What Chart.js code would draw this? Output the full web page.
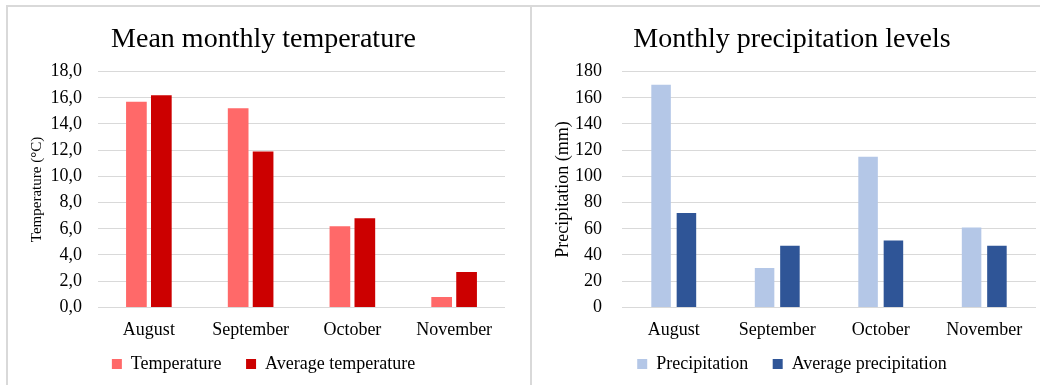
<!DOCTYPE html>
<html>
<head>
<meta charset="utf-8">
<script src="https://cdn.jsdelivr.net/npm/chart.js@4.4.1/dist/chart.umd.min.js"></script>
<style>
  html, body { margin: 0; padding: 0; background: #ffffff; overflow: hidden; }
  body { width: 1040px; height: 385px; position: relative; }
  .frame { position: absolute; border: 2px solid #d9d9d9; box-sizing: border-box; }
  #frameLeft { left: 6px; top: 5px; width: 526px; height: 400px; }
  #frameRight { left: 530px; top: 5px; width: 540px; height: 400px; }
  .holder { position: absolute; }
  #holdLeft { left: 8px; top: 7px; width: 520px; height: 378px; }
  #holdRight { left: 532px; top: 7px; width: 522px; height: 378px; }
</style>
</head>
<body>
<div class="frame" id="frameLeft"></div>
<div class="frame" id="frameRight"></div>
<div class="holder" id="holdLeft"><canvas id="tempChart"></canvas></div>
<div class="holder" id="holdRight"><canvas id="precChart"></canvas></div>
<script>
// Months shown on both charts
const months = ['August', 'September', 'October', 'November'];

// Temperature, °C
const temperature = [15.7, 15.2, 6.2, 0.8];
const averageTemperature = [16.2, 11.9, 6.8, 2.7];
const temperatureTicks = ['0,0', '2,0', '4,0', '6,0', '8,0', '10,0', '12,0', '14,0', '16,0', '18,0'];

// Precipitation, mm
const precipitation = [170, 30, 115, 61];
const averagePrecipitation = [72, 47, 51, 47];
const precipitationTicks = ['0', '20', '40', '60', '80', '100', '120', '140', '160', '180'];

const serif = '"Liberation Serif", "Times New Roman", serif';
Chart.defaults.font.family = serif;
Chart.defaults.color = '#000000';

function barChart(canvasId, cfg) {
  return new Chart(document.getElementById(canvasId), {
    type: 'bar',
    data: {
      labels: months,
      datasets: cfg.series.map(s => ({
        label: s.label,
        data: s.data,
        backgroundColor: s.color,
        borderWidth: 0,
        categoryPercentage: 0.49,
        barPercentage: cfg.barPct
      }))
    },
    options: {
      responsive: true,
      maintainAspectRatio: false,
      animation: false,
      layout: { padding: cfg.padding },
      plugins: {
        title: {
          display: true,
          text: cfg.title,
          font: { size: 28, weight: 'normal', family: serif },
          color: '#000000',
          padding: { top: 16, bottom: 15 }
        },
        legend: {
          position: 'bottom',
          labels: {
            boxWidth: 10,
            boxHeight: 10,
            padding: 2,
            font: { size: 18, family: serif },
            color: '#000000',
            // a wider gap between the two legend entries
            generateLabels: (chart) => {
              const items = Chart.defaults.plugins.legend.labels.generateLabels(chart);
              items.forEach((it, i) => {
                it.lineWidth = 0;
                if (i < items.length - 1) it.text = it.text + '\u2003\u00A0';
              });
              return items;
            }
          }
        },
        tooltip: { enabled: false }
      },
      scales: {
        x: {
          grid: { display: false, drawTicks: false },
          border: { display: false },
          ticks: { font: { size: 18, family: serif }, padding: 12, color: '#000000' }
        },
        y: {
          min: 0,
          max: cfg.max,
          afterFit: (scale) => { scale.width = cfg.axisWidth; },
          grid: { color: '#d9d9d9', lineWidth: 1, drawTicks: false },
          border: { display: false },
          ticks: {
            stepSize: cfg.step,
            autoSkip: false,
            padding: cfg.tickPad,
            font: { size: 18, family: serif },
            color: '#000000',
            callback: (v, i) => cfg.ticks[i]
          },
          title: {
            display: true,
            text: cfg.axisTitle,
            font: { size: cfg.axisTitleSize, family: serif },
            color: '#000000',
            padding: { top: cfg.axisTitlePad, bottom: 0 }
          }
        }
      }
    }
  });
}

barChart('tempChart', {
  title: 'Mean monthly temperature',
  axisTitle: 'Temperature (°C)',
  axisTitleSize: 15, axisTitlePad: 6,
  max: 18, step: 2, ticks: temperatureTicks,
  tickPad: 16, barPct: 0.83, axisWidth: 76,
  padding: { left: 14, right: 23, top: 0, bottom: 2 },
  series: [
    { label: 'Temperature', data: temperature, color: '#ff6969' },
    { label: 'Average temperature', data: averageTemperature, color: '#cc0000' }
  ]
});

barChart('precChart', {
  title: 'Monthly precipitation levels',
  axisTitle: 'Precipitation (mm)',
  axisTitleSize: 18, axisTitlePad: 4,
  max: 180, step: 20, ticks: precipitationTicks,
  tickPad: 20, barPct: 0.77, axisWidth: 74,
  padding: { left: 16, right: 18, top: 0, bottom: 2 },
  series: [
    { label: 'Precipitation', data: precipitation, color: '#b4c7e7' },
    { label: 'Average precipitation', data: averagePrecipitation, color: '#2f5597' }
  ]
});
</script>
</body>
</html>
